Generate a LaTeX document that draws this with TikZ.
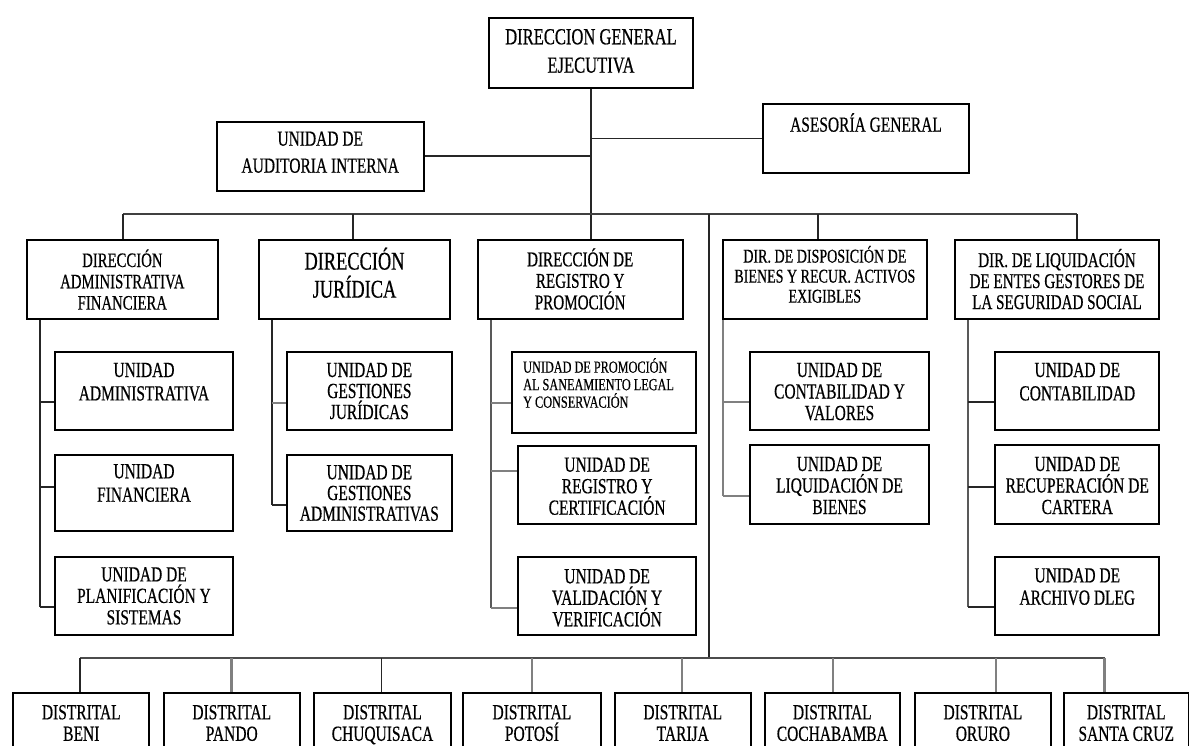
\documentclass[tikz,border=0pt]{standalone}
\usepackage{fontspec}
\newfontfamily\nf[FakeStretch=0.72,FakeBold=0.5]{Liberation Serif}
\newcommand{\fsz}[2]{\fontsize{#1pt}{#2pt}\selectfont\nf}
\begin{document}
\begin{tikzpicture}[x=1pt,y=-1pt,
  box/.style={draw=black, line width=2pt, inner sep=0pt, anchor=north west},
  txt/.style={align=center, inner sep=0pt, anchor=base},
  unit/.style={txt, font=\fsz{21.5}{21.5}},
  ln/.style={line width=1.8pt, draw=black!85},
  lg/.style={line width=2.2pt, draw=black!50}]
\useasboundingbox (0,0) rectangle (1189,746);
\clip (0,0) rectangle (1189,746);

% ---------- boxes ----------
\node[box, minimum width=203.4pt, minimum height=69.4pt] (top) at (488.3,17.3) {};
\node[box, minimum width=206.5pt, minimum height=69.3pt] (aud) at (216,120.7) {};
\node[box, minimum width=206pt,   minimum height=68.4pt] (ase) at (762,103.3) {};
\node[box, minimum width=190.7pt, minimum height=78.7pt] (daf) at (26,239.3) {};
\node[box, minimum width=191pt,   minimum height=78.7pt] (jur) at (258,239.3) {};
\node[box, minimum width=205pt,   minimum height=78.7pt] (reg) at (476.7,239.3) {};
\node[box, minimum width=204.3pt, minimum height=78.7pt] (dis) at (721.7,239.3) {};
\node[box, minimum width=204.6pt, minimum height=78.7pt] (liq) at (953.7,239.3) {};
\node[box, minimum width=178pt,   minimum height=78.3pt] (ua) at (54,350.7) {};
\node[box, minimum width=178pt,   minimum height=76pt]   (uf) at (54,454) {};
\node[box, minimum width=178pt,   minimum height=78.3pt] (up) at (54,555.7) {};
\node[box, minimum width=164.7pt, minimum height=78.3pt] (gj) at (286,350.7) {};
\node[box, minimum width=164.7pt, minimum height=76pt]   (ga) at (286,454) {};
\node[box, minimum width=184pt,   minimum height=81.3pt] (pr) at (511,350.7) {};
\node[box, minimum width=177.7pt, minimum height=77.7pt] (rc) at (517.3,445) {};
\node[box, minimum width=177.7pt, minimum height=78.3pt] (vv) at (517.3,556) {};
\node[box, minimum width=178.4pt, minimum height=78.6pt] (cv) at (749.3,350.7) {};
\node[box, minimum width=178.4pt, minimum height=78.4pt] (lb) at (749.3,444.3) {};
\node[box, minimum width=164pt,   minimum height=78.6pt] (co) at (994.3,350.7) {};
\node[box, minimum width=164pt,   minimum height=78.4pt] (rca) at (994.3,444.3) {};
\node[box, minimum width=164pt,   minimum height=78.6pt] (ar) at (994.3,555.7) {};
\node[box, minimum width=136pt,   minimum height=100pt] (beni) at (12.3,692) {};
\node[box, minimum width=135.5pt, minimum height=100pt] (pando) at (163,692) {};
\node[box, minimum width=137pt,   minimum height=100pt] (chuq) at (313,692) {};
\node[box, minimum width=137.2pt, minimum height=100pt] (pot) at (462.3,692) {};
\node[box, minimum width=135.5pt, minimum height=100pt] (tar) at (614,692) {};
\node[box, minimum width=134.6pt, minimum height=100pt] (coc) at (764,692) {};
\node[box, minimum width=136.8pt, minimum height=100pt] (oru) at (913.5,692) {};
\node[box, minimum width=124.5pt, minimum height=100pt] (scz) at (1063,692) {};

% ---------- texts (anchor = baseline of the last line) ----------
\node[txt, font=\fsz{23}{28.4}] at ([yshift=-55.4pt]top.north) {DIRECCION GENERAL\\EJECUTIVA};
\node[txt, font=\fsz{21.5}{27}] at ([yshift=-52pt]aud.north) {UNIDAD DE\\AUDITORIA INTERNA};
\node[txt, font=\fsz{21.5}{27}] at ([yshift=-28.4pt]ase.north) {ASESORÍA GENERAL};
\node[txt, font=\fsz{20.5}{21.3}] at ([yshift=-70.3pt]daf.north) {DIRECCIÓN\\ADMINISTRATIVA\\FINANCIERA};
\node[txt, font=\fsz{25.5}{28}] at ([yshift=-58.3pt]jur.north) {DIRECCIÓN\\JURÍDICA};
\node[txt, font=\fsz{21}{21.5}] at ([yshift=-70pt]reg.north) {DIRECCIÓN DE\\REGISTRO Y\\PROMOCIÓN};
\node[txt, font=\fsz{19.5}{20}] at ([yshift=-63.3pt]dis.north) {DIR. DE DISPOSICIÓN DE\\BIENES Y RECUR. ACTIVOS\\EXIGIBLES};
\node[txt, font=\fsz{21}{21}] at ([yshift=-69.7pt]liq.north) {DIR. DE LIQUIDACIÓN\\DE ENTES GESTORES DE\\LA SEGURIDAD SOCIAL};
\node[unit, font=\fsz{21.5}{23.4}] at ([yshift=-49.7pt]ua.north) {UNIDAD\\ADMINISTRATIVA};
\node[unit, font=\fsz{21.5}{23.4}] at ([yshift=-47.7pt]uf.north) {UNIDAD\\FINANCIERA};
\node[unit] at ([yshift=-68.7pt]up.north) {UNIDAD DE\\PLANIFICACIÓN Y\\SISTEMAS};
\node[unit, font=\fsz{21.5}{21}] at ([yshift=-68.3pt]gj.north) {UNIDAD DE\\GESTIONES\\JURÍDICAS};
\node[unit, font=\fsz{21.5}{20.7}] at ([yshift=-66.7pt]ga.north) {UNIDAD DE\\GESTIONES\\ADMINISTRATIVAS};
\node[anchor=base west, align=left, inner sep=0pt, font=\fsz{17}{17.5}] at ([xshift=12pt,yshift=-57pt]pr.north west) {UNIDAD DE PROMOCIÓN\\AL SANEAMIENTO LEGAL\\Y CONSERVACIÓN};
\node[unit] at ([yshift=-69.7pt]rc.north) {UNIDAD DE\\REGISTRO Y\\CERTIFICACIÓN};
\node[unit] at ([yshift=-70.3pt]vv.north) {UNIDAD DE\\VALIDACIÓN Y\\VERIFICACIÓN};
\node[unit] at ([yshift=-69.3pt]cv.north) {UNIDAD DE\\CONTABILIDAD Y\\VALORES};
\node[unit] at ([yshift=-69.7pt]lb.north) {UNIDAD DE\\LIQUIDACIÓN DE\\BIENES};
\node[unit, font=\fsz{21.5}{23.4}] at ([yshift=-49.7pt]co.north) {UNIDAD DE\\CONTABILIDAD};
\node[unit] at ([yshift=-69.7pt]rca.north) {UNIDAD DE\\RECUPERACIÓN DE\\CARTERA};
\node[unit, font=\fsz{21.5}{22.3}] at ([yshift=-49pt]ar.north) {UNIDAD DE\\ARCHIVO DLEG};
\node[unit] at ([yshift=-48.8pt]beni.north) {DISTRITAL\\BENI};
\node[unit] at ([yshift=-48.8pt]pando.north) {DISTRITAL\\PANDO};
\node[unit] at ([yshift=-48.8pt]chuq.north) {DISTRITAL\\CHUQUISACA};
\node[unit] at ([yshift=-48.8pt]pot.north) {DISTRITAL\\POTOSÍ};
\node[unit] at ([yshift=-48.8pt]tar.north) {DISTRITAL\\TARIJA};
\node[unit] at ([yshift=-48.8pt]coc.north) {DISTRITAL\\COCHABAMBA};
\node[unit] at ([yshift=-48.8pt]oru.north) {DISTRITAL\\ORURO};
\node[unit] at ([yshift=-48.8pt]scz.north) {DISTRITAL\\SANTA CRUZ};

% ---------- upper connectors ----------
\draw[ln] (top.south) -- (top.south |- reg.north);
\draw[ln] (aud.east) -- (aud.east -| top.south);
\draw[ln] (ase.west) -- (ase.west -| top.south);
\coordinate (busL) at (123,214.3);
\coordinate (busJ) at (353,214.3);
\coordinate (busT) at (709.3,214.3);
\coordinate (busD) at (818.3,214.3);
\coordinate (busR) at (1077,214.3);
\draw[line width=2pt, draw=black!75] (busL) -- (busR);
\draw[ln] (busL) -- (busL |- daf.north);
\draw[ln] (busJ) -- (busJ |- jur.north);
\draw[ln] (busD) -- (busD |- dis.north);
\draw[ln] (busR) -- (busR |- liq.north);

% ---------- trunk to distritales ----------
\coordinate (lowT) at (709.3,658.3);
\draw[ln] (busT) -- (lowT);
\coordinate (lowL) at (80,658.3);
\coordinate (lowR) at (1104.5,658.3);
\draw[line width=2pt, draw=black!70] (lowL) -- (lowR);
\coordinate (d1) at (80,658.3);
\coordinate (d2) at (231.5,658.3);
\coordinate (d3) at (381.5,658.3);
\coordinate (d4) at (532,658.3);
\coordinate (d5) at (681.7,658.3);
\coordinate (d6) at (832.7,658.3);
\coordinate (d7) at (995.6,658.3);
\coordinate (d8) at (1104.5,658.3);
\draw[ln] (d1) -- (d1 |- beni.north);
\draw[lg] (d2) -- (d2 |- pando.north);
\draw[ln] (d3) -- (d3 |- chuq.north);
\draw[lg] (d4) -- (d4 |- pot.north);
\draw[lg] (d5) -- (d5 |- tar.north);
\draw[lg] (d6) -- (d6 |- coc.north);
\draw[lg] (d7) -- (d7 |- oru.north);
\draw[lg] (d8) -- (d8 |- scz.north);

% ---------- DAF ----------
\coordinate (kUA) at (40,402);
\coordinate (kUF) at (40,487);
\coordinate (kUP) at (40,606.7);
\draw[ln] (daf.south -| kUA) -- (kUP);
\draw[ln] (kUA) -- (kUA -| ua.west);
\draw[ln] (kUF) -- (kUF -| uf.west);
\draw[ln] (kUP) -- (kUP -| up.west);

% ---------- Juridica ----------
\coordinate (kGJ) at (272.3,402.7);
\coordinate (kGA) at (272.3,505);
\draw[ln] (jur.south -| kGJ) -- (kGA);
\draw[lg] (kGJ) -- (kGJ -| gj.west);
\draw[ln] (kGA) -- (kGA -| ga.west);

% ---------- Registro ----------
\coordinate (kPR) at (490.7,402.7);
\coordinate (kRC) at (490.7,470.7);
\coordinate (kVV) at (490.7,607.7);
\draw[line width=2pt, draw=black!65] (reg.south -| kPR) -- (kVV);
\draw[lg] (kPR) -- (kPR -| pr.west);
\draw[lg] (kRC) -- (kRC -| rc.west);
\draw[lg] (kVV) -- (kVV -| vv.west);

% ---------- Disposicion ----------
\coordinate (kCV) at (723.3,402.3);
\coordinate (kLB) at (723.3,495.7);
\draw[lg] (dis.south -| kCV) -- (kLB);
\draw[lg] (kCV) -- (kCV -| cv.west);
\draw[lg] (kLB) -- (kLB -| lb.west);

% ---------- Liquidacion ----------
\coordinate (kCO) at (968.3,402.3);
\coordinate (kRCA) at (968.3,487.3);
\coordinate (kAR) at (968.3,606.7);
\draw[line width=2pt, draw=black!65] (liq.south -| kCO) -- (kAR);
\draw[ln] (kCO) -- (kCO -| co.west);
\draw[ln] (kRCA) -- (kRCA -| rca.west);
\draw[ln] (kAR) -- (kAR -| ar.west);
\end{tikzpicture}
\end{document}
